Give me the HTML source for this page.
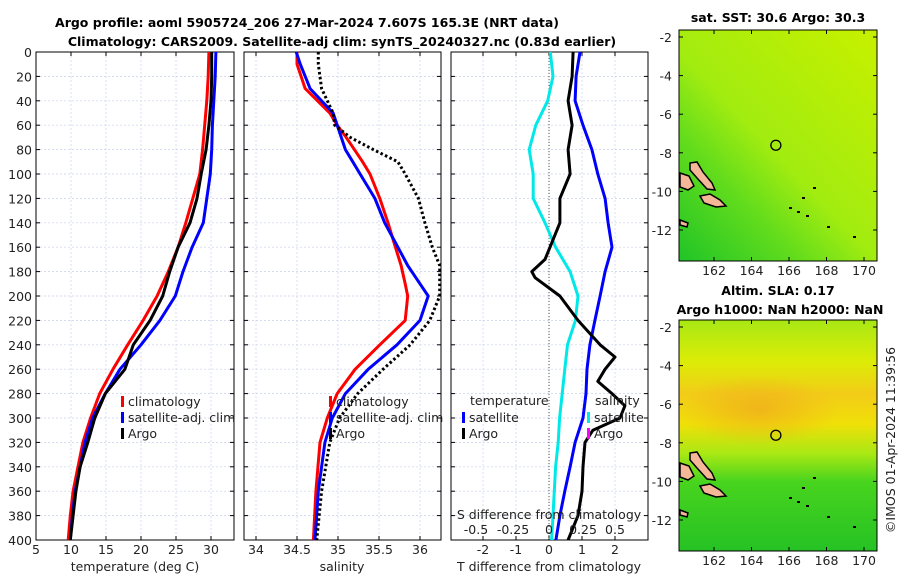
<!DOCTYPE html>
<html><head><meta charset="utf-8"><style>
body{margin:0;background:#fff;}
svg{font-family:"DejaVu Sans","Liberation Sans",sans-serif;}
</style></head><body>
<svg id="c" width="900" height="580" viewBox="0 0 900 580" xmlns="http://www.w3.org/2000/svg">
<defs>
<linearGradient id="sstg" x1="0" y1="1" x2="0.9" y2="0">
<stop offset="0" stop-color="#20c428"/><stop offset="0.3" stop-color="#62dc1c"/><stop offset="0.5" stop-color="#a2ec10"/><stop offset="1" stop-color="#c4f000"/></linearGradient>
<linearGradient id="slag" x1="0" y1="0" x2="0" y2="1">
<stop offset="0" stop-color="#a8e814"/><stop offset="0.18" stop-color="#dcec06"/><stop offset="0.32" stop-color="#f2cc18"/><stop offset="0.45" stop-color="#f0e008"/><stop offset="0.58" stop-color="#a8e814"/><stop offset="0.7" stop-color="#48d41e"/><stop offset="1" stop-color="#26c224"/></linearGradient>
<radialGradient id="slao" cx="0.5" cy="0.5" r="0.5">
<stop offset="0" stop-color="#f0a020" stop-opacity="0.6"/><stop offset="1" stop-color="#f0a020" stop-opacity="0"/></radialGradient>
</defs>
<g id="root"></g>
</svg>
<script>
// ---- data ----
const depths = [0,20,40,60,80,100,120,140,160,180,200,220,240,260,280,300,320,340,360,380,400];
const tempClim = [29.7,29.6,29.4,29.1,28.8,28.4,27.4,26.4,25.3,23.9,22.3,20.3,18.1,16.0,14.1,12.8,11.7,11.0,10.3,9.9,9.6];
const tempSat  = [30.7,30.6,30.4,30.2,30.1,29.9,29.4,28.9,27.3,26.0,24.9,22.7,20.0,17.0,14.9,13.1,12.0,11.3,10.6,10.2,9.9];
const tempArgo = [30.1,30.1,30.0,29.7,29.3,28.6,28.0,27.0,25.3,24.1,23.1,21.3,18.9,17.7,14.9,13.4,12.4,11.3,10.7,10.3,9.9];
const salDepths = [0,10,30,50,60,70,80,90,100,120,140,160,175,190,200,220,240,260,280,300,320,360,400];
const salClim = [34.50,34.50,34.60,34.90,34.99,35.10,35.20,35.30,35.39,35.51,35.61,35.70,35.77,35.82,35.85,35.82,35.51,35.21,34.99,34.87,34.78,34.73,34.70];
const salSat  = [34.49,34.54,34.66,34.94,34.99,35.04,35.09,35.18,35.27,35.45,35.57,35.73,35.85,36.0,36.10,36.00,35.72,35.37,35.09,34.93,34.84,34.76,34.72];
const salArgo = [34.76,34.76,34.80,34.94,34.96,35.15,35.43,35.73,35.82,35.98,36.06,36.15,36.24,36.24,36.24,36.12,35.88,35.55,35.24,35.02,34.90,34.80,34.74];
const diffDepths = [0,20,40,60,80,100,120,140,160,180,200,220,240,260,280,300,320,340,360,380,400];
const tDiffSat = [0.94,0.82,0.79,1.03,1.30,1.48,1.70,1.79,1.91,1.70,1.55,1.39,1.24,1.15,1.12,1.03,0.79,0.64,0.48,0.33,0.21];
const sDiffSat = [0.01,0.03,-0.01,-0.10,-0.15,-0.12,-0.12,-0.03,0.05,0.16,0.22,0.20,0.14,0.12,0.10,0.08,0.07,0.05,0.04,0.03,0.02];
const argoDDepths = [0,20,40,60,80,100,120,140,160,170,180,185,200,220,240,250,260,270,280,290,300,310,320,340,360,380,400];
const tDiffArgo = [0.73,0.70,0.58,0.70,0.58,0.64,0.33,0.33,0.03,-0.12,-0.52,-0.42,0.33,0.88,1.55,2.00,1.70,1.48,1.91,2.30,2.15,1.33,1.09,1.03,1.00,0.88,0.58];
const tempTicks = [5,10,15,20,25,30];
const salTicks = [34,34.5,35,35.5,36];
const tdTicks = [-2,-1,0,1,2];
const sdTicks = [-0.5,-0.25,0,0.25,0.5];
const depthTicks = [0,20,40,60,80,100,120,140,160,180,200,220,240,260,280,300,320,340,360,380,400];
const lonTicks = [162,164,166,168,170];
const latTicks = [-2,-4,-6,-8,-10,-12];

const NS="http://www.w3.org/2000/svg";
const root=document.getElementById('root');
const FS=12.5;
function mk(tag,attrs,parent,txt){const e=document.createElementNS(NS,tag);for(const k in attrs)e.setAttribute(k,attrs[k]);if(txt!==undefined)e.textContent=txt;(parent||root).appendChild(e);return e;}

const Y0=52,Y1=540;
const yD=d=>Y0+(d/400)*(Y1-Y0);
const xT=t=>36+(t-5)*7;
const xS=s=>256+(s-34)*82;
const xTD=t=>549+t*33;
const xSD=s=>549+s*4*33;

function panel(name,x0,x1,xticks,xf,labelLeft){
  const g=mk('g',{});
  
  
  depthTicks.forEach(d=>{
    if(d>0&&d<400) mk('line',{x1:x0,x2:x1,y1:yD(d),y2:yD(d),stroke:'#c8d0ec','stroke-width':0.7,'stroke-dasharray':'2,2'},g);
    mk('line',{x1:x0,x2:x0+4,y1:yD(d),y2:yD(d),stroke:'#000'},g);
    mk('line',{x1:x1-4,x2:x1,y1:yD(d),y2:yD(d),stroke:'#000'},g);
    if(labelLeft){const t=mk('text',{x:x0-4,y:yD(d)+5,'text-anchor':'end','font-size':FS,fill:'#222'},g,String(d));
      }
  });
  xticks.forEach(v=>{const x=xf(v);
    if(x>x0+1&&x<x1-1) mk('line',{x1:x,x2:x,y1:Y0,y2:Y1,stroke:'#c8d0ec','stroke-width':0.7,'stroke-dasharray':'2,2'},g);
    mk('line',{x1:x,x2:x,y1:Y1-4,y2:Y1,stroke:'#000'},g);
    mk('line',{x1:x,x2:x,y1:Y0,y2:Y0+4,stroke:'#000'},g);
  });
  mk('rect',{x:x0,y:Y0,width:x1-x0,height:Y1-Y0,fill:'none',stroke:'#000','stroke-width':1},g);
  return g;
}
function line(g,xs,ds,xf,color,name,dash,w){
  const pts=xs.map((v,i)=>xf(v).toFixed(1)+','+yD(ds[i]).toFixed(1)).join(' ');
  const p=mk('polyline',{points:pts,fill:'none',stroke:color,'stroke-width':w||3,'stroke-linejoin':'round'},g);
  if(dash)p.setAttribute('stroke-dasharray',dash);
  
  
}
function xlabels(g,ticks,xf,y,fmt){ticks.forEach(v=>{const t=mk('text',{x:xf(v),y:y,'text-anchor':'middle','font-size':FS,fill:'#222'},g,fmt?fmt(v):String(v));
  });}
function legend(g,x,y,items){items.forEach((it,i)=>{const yy=y+i*16;
  mk('rect',{x:x,y:yy-9,width:3,height:11,fill:it[1]},g);
  const t=mk('text',{x:x+7,y:yy+1,'font-size':FS,fill:'#222'},g,it[0]);
  });}

// Titles
let t1=mk('text',{x:307,y:27,'text-anchor':'middle','font-size':12.5,'font-weight':'bold'},root,'Argo profile: aoml 5905724_206 27-Mar-2024 7.607S 165.3E (NRT data)');

let t2=mk('text',{x:342,y:46,'text-anchor':'middle','font-size':12.5,'font-weight':'bold'},root,'Climatology: CARS2009. Satellite-adj clim: synTS_20240327.nc (0.83d earlier)');


// Panel 1
const p1=panel('temperature-panel',36,234,tempTicks,xT,true);
line(p1,tempClim,depths,xT,'#f00','temp-climatology-line');
line(p1,tempSat,depths,xT,'#00f','temp-satellite-line');
line(p1,tempArgo,depths,xT,'#000','temp-argo-line');
xlabels(p1,tempTicks,xT,554);
let a1=mk('text',{x:135,y:571,'text-anchor':'middle','font-size':FS,fill:'#222'},p1,'temperature (deg C)');

legend(p1,121,405,[['climatology','#f00'],['satellite-adj. clim','#00f'],['Argo','#000']]);

// Panel 2
const p2=panel('salinity-panel',244,441,salTicks,xS,false);
line(p2,salClim,salDepths,xS,'#f00','sal-climatology-line');
line(p2,salSat,salDepths,xS,'#00f','sal-satellite-line');
line(p2,salArgo,salDepths,xS,'#000','sal-argo-line','2.5,2.5');
xlabels(p2,salTicks,xS,554);
let a2=mk('text',{x:342,y:571,'text-anchor':'middle','font-size':FS,fill:'#222'},p2,'salinity');

legend(p2,329,405,[['climatology','#f00'],['satellite-adj. clim','#00f'],['Argo','#000']]);

// Panel 3
const p3=panel('difference-panel',451,648,tdTicks,xTD,false);
mk('line',{x1:549,x2:549,y1:Y0,y2:Y1,stroke:'#555','stroke-width':1,'stroke-dasharray':'1,2'},p3);
line(p3,sDiffSat,diffDepths,xSD,'#00e8e8','sal-diff-satellite-line');
line(p3,tDiffSat,diffDepths,xTD,'#00f','temp-diff-satellite-line');
line(p3,tDiffArgo,argoDDepths,xTD,'#000','temp-diff-argo-line');
xlabels(p3,tdTicks,xTD,554);
let a3=mk('text',{x:549,y:571,'text-anchor':'middle','font-size':FS,fill:'#222'},p3,'T difference from climatology');

let a4=mk('text',{x:549,y:519,'text-anchor':'middle','font-size':FS,fill:'#222'},p3,'S difference from climatology');

const sdPos=[476,513,549,583,615];
sdTicks.forEach((v,i)=>{const t=mk('text',{x:sdPos[i],y:534,'text-anchor':'middle','font-size':FS,fill:'#222'},p3,String(v));
  });
let lt=mk('text',{x:470,y:405,'font-size':FS,fill:'#222'},p3,'temperature');
let ls=mk('text',{x:595,y:405,'font-size':FS,fill:'#222'},p3,'salinity');
legend(p3,462,421,[['satellite','#00f'],['Argo','#000']]);
legend(p3,587,421,[['satellite','#00e8e8'],['Argo','#f0f']]);

// Maps
function map(name,top,bot,fill,islandsOff,overlay){
  const g=mk('g',{});
  
  
  const L=679,R=877;
  mk('rect',{x:L,y:top,width:R-L,height:bot-top,fill:fill},g);
  if(overlay) mk('ellipse',{cx:758,cy:top+90,rx:80,ry:35,fill:overlay},g);
  const lx=lon=>714+(lon-162)*18.75;
  const ly=lat=>(top+7)+(-2-lat)*(bot-top-38)/10;
  const isl=[
    'M690,163 L697,162 L703,172 L712,183 L715,190 L707,189 L697,178 L690,170 Z',
    'M680,173 L689,176 L694,186 L688,190 L680,187 Z',
    'M700,196 L710,194 L720,200 L726,206 L716,207 L704,203 Z',
    'M680,220 L688,223 L687,227 L680,225 Z'
  ];
  isl.forEach(d=>{const p=mk('path',{d:d,fill:'#f4b898',stroke:'#000','stroke-width':1.5,transform:'translate(0,'+islandsOff+')'},g);
    });
  [[789,207],[797,211],[806,215],[827,226],[802,197],[813,187],[853,236]].forEach(q=>mk('rect',{x:q[0],y:q[1]+islandsOff,width:3,height:2,fill:'#000'},g));
  const c=mk('circle',{cx:lx(165.3),cy:ly(-7.607),r:5,fill:'none',stroke:'#000','stroke-width':1.3},g);
  
  lonTicks.forEach(v=>{const x=lx(v);mk('line',{x1:x,x2:x,y1:bot-4,y2:bot,stroke:'#000'},g);mk('line',{x1:x,x2:x,y1:top,y2:top+4,stroke:'#000'},g);
    const t=mk('text',{x:x,y:bot+14,'text-anchor':'middle','font-size':FS,fill:'#222'},g,String(v));});
  latTicks.forEach(v=>{const y=ly(v);mk('line',{x1:L,x2:L+4,y1:y,y2:y,stroke:'#000'},g);mk('line',{x1:R-4,x2:R,y1:y,y2:y,stroke:'#000'},g);
    const t=mk('text',{x:L-7,y:y+5,'text-anchor':'end','font-size':FS,fill:'#222'},g,String(v));});
  mk('rect',{x:L,y:top,width:R-L,height:bot-top,fill:'none',stroke:'#000'},g);
}
map('sst-map',30,261,'url(#sstg)',0,null);
map('sla-map',320,551,'url(#slag)',290,'url(#slao)');
let m1=mk('text',{x:778,y:22,'text-anchor':'middle','font-size':12.5,'font-weight':'bold'},root,'sat. SST: 30.6 Argo: 30.3');

let m2=mk('text',{x:778,y:295,'text-anchor':'middle','font-size':12.5,'font-weight':'bold'},root,'Altim. SLA: 0.17');

let m3=mk('text',{x:780,y:314,'text-anchor':'middle','font-size':12.5,'font-weight':'bold'},root,'Argo h1000: NaN h2000: NaN');

let cr=mk('text',{x:0,y:0,'text-anchor':'middle','font-size':FS,fill:'#222',transform:'translate(895,440) rotate(-90)'},root,'©IMOS 01-Apr-2024 11:39:56');

</script>
</body></html>
